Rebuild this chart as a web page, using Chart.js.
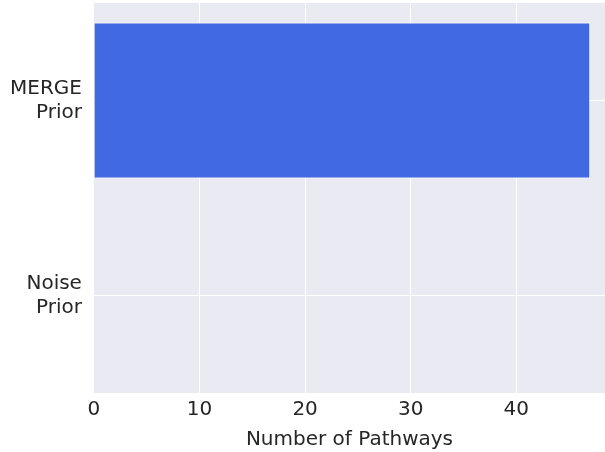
<!DOCTYPE html>
<html>
<head>
<meta charset="utf-8">
<script src="https://cdn.jsdelivr.net/npm/chart.js@4/dist/chart.umd.min.js"></script>
<style>
html,body{margin:0;padding:0;background:#fff;}
#wrap{width:605px;height:452px;}
</style>
</head>
<body>
<div id="wrap"><canvas id="c" width="605" height="452"></canvas></div>
<script>
const categories = [["MERGE", "Prior"], ["Noise", "Prior"]];
const pathwayCounts = [47, 0];
const xTickValues = [0, 10, 20, 30, 40];
const xTitle = "Number of Pathways";

const bgPlugin = {
  id: 'bg',
  beforeDraw(chart) {
    const {ctx, chartArea: a} = chart;
    ctx.save();
    ctx.fillStyle = '#EAEAF2';
    ctx.fillRect(a.left, a.top, a.right - a.left, a.bottom - a.top);
    ctx.restore();
  }
};

const font = {family: "'DejaVu Sans', sans-serif", size: 20};

new Chart(document.getElementById('c'), {
  type: 'bar',
  data: {
    labels: categories,
    datasets: [{
      data: pathwayCounts,
      backgroundColor: '#4169E1',
      borderColor: 'rgba(255,255,255,0.6)',
      borderWidth: 1,
      barPercentage: 0.8,
      categoryPercentage: 1.0
    }]
  },
  options: {
    indexAxis: 'y',
    responsive: false,
    animation: false,
    devicePixelRatio: 1,
    layout: {padding: {top: 3, right: 0, left: -2, bottom: 0}},
    plugins: {legend: {display: false}, tooltip: {enabled: false}},
    scales: {
      x: {
        min: 0,
        max: 48.4,
        afterBuildTicks(scale) { scale.ticks = xTickValues.map(v => ({value: v})); },
        afterFit(scale) { scale.paddingLeft = 0; scale.paddingRight = 0; },
        grid: {color: '#ffffff', lineWidth: 1, drawTicks: false},
        border: {display: false},
        ticks: {font: font, color: '#262626', padding: 5},
        title: {display: true, text: xTitle, font: font, color: '#262626', padding: {top: 1, bottom: 0}}
      },
      y: {
        afterFit(scale) { scale.paddingTop = 0; scale.paddingBottom = 0; },
        grid: {color: '#ffffff', lineWidth: 1, drawTicks: false, offset: false},
        border: {display: false},
        ticks: {font: font, color: '#262626', padding: 12}
      }
    }
  },
  plugins: [bgPlugin]
});
</script>
</body>
</html>
